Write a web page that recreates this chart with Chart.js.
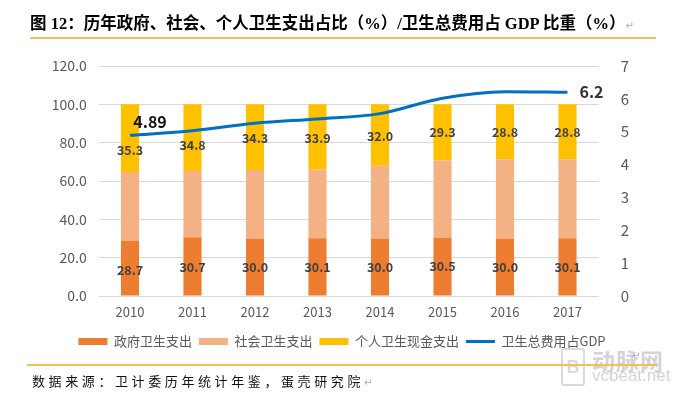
<!DOCTYPE html>
<html><head><meta charset="utf-8">
<script src="https://cdn.jsdelivr.net/npm/chart.js@4"></script>
<style>
html,body{margin:0;padding:0;background:#fff;}
#wrap{position:relative;width:684px;height:396px;overflow:hidden;}
canvas{position:absolute;left:0;top:0;}
.t{position:absolute;white-space:nowrap;}
#title{left:30px;top:10px;font:bold 16.5px "Liberation Serif","Noto Sans CJK SC";color:#000;}
#src{left:32px;top:371px;font:13px "Noto Sans CJK SC";letter-spacing:3.6px;color:#111;}
.hr{position:absolute;height:1.5px;background:#F2C14E;}
.ret{color:#aaa;font:10px "DejaVu Sans";letter-spacing:0;}
#wm1{left:592px;top:343px;font:bold 23px "Noto Sans CJK SC";color:#d4d4d4;letter-spacing:1px;}
#wm2{left:592px;top:366px;font:17px "Liberation Sans";color:#d4d4d4;}
#logo{position:absolute;left:561px;top:348px;width:20px;height:34px;border:2px solid #dadada;border-radius:3px;color:#dadada;font:bold 18px "Liberation Sans";text-align:center;line-height:34px;}
</style></head><body>
<div id="wrap">
<canvas id="c" width="684" height="396"></canvas>
<div class="t" id="title">图 12：历年政府、社会、个人卫生支出占比（%）/卫生总费用占 GDP 比重（%）<span class="ret">↵</span></div>
<div class="hr" style="left:30px;top:37px;width:626px;"></div>
<div id="logo">B</div>
<div class="t" id="wm1">动脉网</div>
<div class="t" id="wm2">vcbeat.net</div>
<div class="hr" style="left:27px;top:364px;width:630px;"></div>
<div class="t ret" style="left:632px;top:350px;">↵</div>
<div class="t" id="src">数据来源：卫计委历年统计年鉴，蛋壳研究院<span class="ret">↵</span></div>
</div>
<script>
const years = ['2010','2011','2012','2013','2014','2015','2016','2017'];
const govShare = [28.7, 30.7, 30.0, 30.1, 30.0, 30.5, 30.0, 30.1];
const socialShare = [36.0, 34.5, 35.7, 36.0, 38.0, 40.2, 41.2, 41.1];
const personalShare = [35.3, 34.8, 34.3, 33.9, 32.0, 29.3, 28.8, 28.8];
const gdpShare = [4.89, 5.03, 5.26, 5.39, 5.55, 6.02, 6.22, 6.2];
const seriesNames = ['政府卫生支出','社会卫生支出','个人卫生现金支出','卫生总费用占GDP'];

const FONT = '"Noto Sans CJK SC", "Liberation Sans", sans-serif';
const W = 684, H = 396;
const area = {left: 98.75, right: 598.75, top: 66, bottom: 295};

const labelPlugin = {
  id: 'vlabels',
  afterDatasetsDraw(chart) {
    const ctx = chart.ctx;
    ctx.save();
    ctx.textAlign = 'center';
    ctx.textBaseline = 'middle';
    ctx.fillStyle = '#404040';
    ctx.font = 'bold 12.5px ' + FONT;
    const shifts = {0: [2,1,0,0,0,0,0,0], 2: [12,8,1,1,1,0,0,0]};
    [0, 2].forEach(di => {
      const meta = chart.getDatasetMeta(di);
      meta.data.forEach((bar, i) => {
        const v = chart.data.datasets[di].data[i];
        const cy = (bar.y + bar.base) / 2 + shifts[di][i];
        ctx.fillText(v.toFixed(1), bar.x, cy);
      });
    });
    const lm = chart.getDatasetMeta(3).data;
    const d = chart.data.datasets[3].data;
    ctx.font = 'bold 16px ' + FONT;
    ctx.fillStyle = '#111';
    ctx.fillText(d[0].toFixed(2), lm[0].x + 20, lm[0].y - 13);
    ctx.fillStyle = '#333';
    const n = d.length - 1;
    ctx.fillText(d[n].toFixed(1), lm[n].x + 24, lm[n].y);
    ctx.restore();
  }
};

new Chart(document.getElementById('c'), {
  data: {
    labels: years,
    datasets: [
      {type:'bar', label: seriesNames[0], data: govShare, backgroundColor:'#ED7D31', pointStyle:'rect', yAxisID:'y', barPercentage:0.29, categoryPercentage:1},
      {type:'bar', label: seriesNames[1], data: socialShare, backgroundColor:'#F4B183', pointStyle:'rect', yAxisID:'y', barPercentage:0.29, categoryPercentage:1},
      {type:'bar', label: seriesNames[2], data: personalShare, backgroundColor:'#FFC000', pointStyle:'rect', yAxisID:'y', barPercentage:0.29, categoryPercentage:1},
      {type:'line', label: seriesNames[3], data: gdpShare, borderColor:'#0070C0', backgroundColor:'#0070C0', borderWidth:3, pointRadius:0, pointStyle:'line', cubicInterpolationMode:'monotone', yAxisID:'y1', order:-1}
    ]
  },
  options: {
    responsive:false,
    animation:false,
    layout:{padding:{top:area.top, left:0, right:0, bottom:38}},
    plugins:{
      legend:{
        position:'bottom',
        labels:{
          usePointStyle:true, pointStyleWidth:29,
          boxWidth:29, boxHeight:7, padding:7,
          color:'#595959', font:{family:FONT, size:13},
          sort:(a,b)=>a.datasetIndex-b.datasetIndex
        }
      },
      tooltip:{enabled:false}
    },
    scales:{
      x:{
        stacked:true,
        grid:{display:false},
        border:{display:false},
        ticks:{color:'#595959', font:{family:FONT, size:13}, padding:0},
        afterFit(s){ s.height = 32; }
      },
      y:{
        stacked:true, position:'left', min:0, max:120,
        ticks:{stepSize:20, color:'#595959', font:{family:FONT, size:14}, padding:12, callback:v=>v.toFixed(1)},
        grid:{color:'#d9d9d9', drawTicks:false},
        border:{display:false},
        afterFit(s){ s.width = area.left; }
      },
      y1:{
        position:'right', min:0, max:7, stacked:false,
        ticks:{stepSize:1, color:'#595959', font:{family:FONT, size:15}, padding:14},
        grid:{display:false},
        border:{display:false},
        afterFit(s){ s.width = W - area.right; }
      }
    }
  },
  plugins:[labelPlugin]
});
</script>
</body></html>
